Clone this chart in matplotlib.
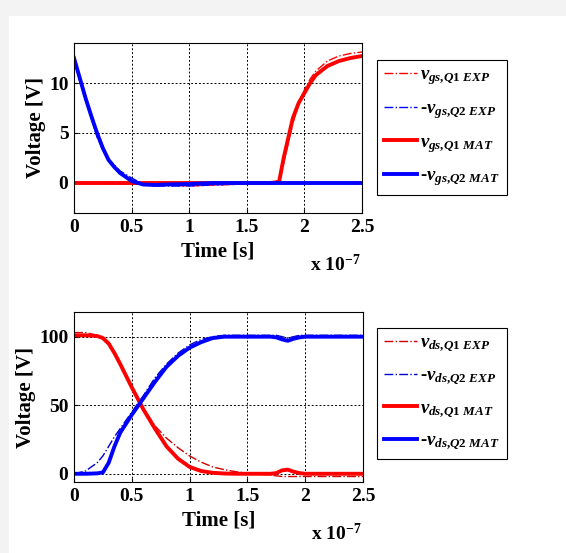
import numpy as np
import matplotlib.pyplot as plt
from matplotlib.patches import Rectangle

plt.rcParams['font.family'] = 'Liberation Serif'
plt.rcParams['font.weight'] = 'bold'
plt.rcParams['axes.labelweight'] = 'bold'
plt.rcParams['mathtext.fontset'] = 'custom'
plt.rcParams['mathtext.it'] = 'Liberation Serif:italic:bold'
plt.rcParams['mathtext.rm'] = 'Liberation Serif:bold'
plt.rcParams['mathtext.bf'] = 'Liberation Serif:bold'

# time in units of 1e-7 s
t_gs_q1 = [0, 0.5, 1.0, 1.5, 1.7, 1.78, 1.82, 1.85, 1.9, 1.95, 2.0, 2.05, 2.1, 2.2, 2.3, 2.4, 2.5]
vgs_q1_mat = [0, 0, 0, 0, 0, 0.1, 2.5, 4.0, 6.5, 8.0, 9.0, 10.0, 10.8, 11.7, 12.2, 12.5, 12.7]
vgs_q1_exp = [0, -0.1, -0.3, -0.1, 0, 0.3, 2.0, 3.5, 6.0, 7.8, 9.3, 10.4, 11.2, 12.2, 12.7, 12.95, 13.1]

t_gs_q2 = [0, 0.05, 0.1, 0.15, 0.2, 0.25, 0.3, 0.35, 0.4, 0.5, 0.6, 0.7, 0.8, 1.0, 1.2, 1.5, 2.0, 2.5]
vgs_q2_mat = [12.5, 10.5, 8.5, 6.7, 5.0, 3.5, 2.3, 1.6, 1.0, 0.2, -0.15, -0.2, -0.15, -0.1, 0, 0, 0, 0]
vgs_q2_exp = [12.3, 10.2, 8.3, 6.5, 4.6, 3.3, 2.4, 1.8, 1.2, 0.5, -0.1, -0.3, -0.3, -0.3, -0.2, -0.1, 0, 0]

t_ds = [0, 0.1, 0.2, 0.25, 0.3, 0.35, 0.4, 0.5, 0.6, 0.7, 0.8, 0.9, 1.0, 1.1, 1.2, 1.3, 1.4, 1.5,
        1.7, 1.75, 1.8, 1.85, 1.9, 1.95, 2.0, 2.5]
vds_q1_mat = [101, 101, 100.5, 99, 95, 88, 80, 63, 47, 33, 20, 11, 5, 2, 0.7, 0.2, 0, 0,
              0, 0.5, 2.5, 3, 1.5, 0.5, 0, 0]
vds_q1_exp = [103, 103, 101, 98, 94, 88, 81, 64, 48, 35, 26, 19, 13, 8.5, 5, 3, 1.5, 0.5,
              -1, -1.5, -2, -2, -2, -2, -2, -2]
vds_q2_mat = [0, 0, 0.3, 1, 8, 20, 30, 43, 55, 67, 78, 86, 92, 96, 99, 100, 100, 100,
              100, 99.5, 98, 97, 98.5, 99.5, 100, 100]
vds_q2_exp = [0, 2, 8, 13, 20, 27, 33, 45, 57, 70, 80, 88, 94, 98, 100, 101, 101, 101,
              101, 101, 100, 99, 100, 101, 101, 101]

labels_gs = [r'$v_{gs{,}Q1\ EXP}$', r'-$v_{gs{,}Q2\ EXP}$', r'$v_{gs{,}Q1\ MAT}$', r'-$v_{gs{,}Q2\ MAT}$']
labels_ds = [r'$v_{ds{,}Q1\ EXP}$', r'-$v_{ds{,}Q2\ EXP}$', r'$v_{ds{,}Q1\ MAT}$', r'-$v_{ds{,}Q2\ MAT}$']

fig = plt.figure(figsize=(5.66, 5.53), dpi=100)
fig.patch.set_facecolor('#f3f3f3')
fig.patches.append(Rectangle((9 / 566, 0), 1, 1 - 16 / 553, transform=fig.transFigure,
                             facecolor='white', edgecolor='none', zorder=-1))


def style_axes(ax, yticks, ylim):
    ax.set_xlim(0, 2.5)
    ax.set_ylim(*ylim)
    ax.set_xticks([0, 0.5, 1, 1.5, 2, 2.5])
    ax.set_xticklabels(['0', '0.5', '1', '1.5', '2', '2.5'])
    ax.set_yticks(yticks)
    ax.tick_params(labelsize=14, direction='in', length=3, pad=4)
    ax.grid(True, color='black', linestyle=(0, (2, 2)), linewidth=0.7)
    for s in ax.spines.values():
        s.set_linewidth(0.8)
    ax.set_xlabel('Time [s]', fontsize=15, labelpad=4)
    ax.set_ylabel('Voltage [V]', fontsize=15, labelpad=2)
    ax.text(0.995, -0.24, r'x 10$^{-7}$', transform=ax.transAxes, fontsize=14,
            ha='right', va='top')


ax1 = fig.add_axes([74 / 566, 1 - 213 / 553, 288 / 566, 170 / 553])
ax1.plot(t_gs_q1, vgs_q1_exp, color='red', linestyle='-.', lw=1.0, label=labels_gs[0])
ax1.plot(t_gs_q2, vgs_q2_exp, color='blue', linestyle='-.', lw=1.0, label=labels_gs[1])
ax1.plot(t_gs_q1, vgs_q1_mat, color='red', lw=2.8, label=labels_gs[2])
ax1.plot(t_gs_q2, vgs_q2_mat, color='blue', lw=2.8, label=labels_gs[3])
style_axes(ax1, [0, 5, 10], (-3, 14))

ax2 = fig.add_axes([74 / 566, 1 - 482 / 553, 289 / 566, 170 / 553])
ax2.plot(t_ds, vds_q1_exp, color='#cc0000', linestyle='-.', lw=1.0, label=labels_ds[0])
ax2.plot(t_ds, vds_q2_exp, color='#0000cc', linestyle='-.', lw=1.0, label=labels_ds[1])
ax2.plot(t_ds, vds_q1_mat, color='red', lw=2.8, label=labels_ds[2])
ax2.plot(t_ds, vds_q2_mat, color='blue', lw=2.8, label=labels_ds[3])
style_axes(ax2, [0, 50, 100], (-6, 118))

for ax, top in ((ax1, 60), (ax2, 328)):
    leg = ax.legend(loc='upper left', bbox_to_anchor=(377 / 566, 1 - top / 553),
                    bbox_transform=fig.transFigure, fontsize=13.5, fancybox=False,
                    edgecolor='black', framealpha=1, borderaxespad=0, handlelength=1.8,
                    labelspacing=0.68, borderpad=0.35, handletextpad=0.15)
    leg.get_frame().set_linewidth(0.8)

plt.savefig('out.png', dpi=100, facecolor=fig.get_facecolor())
